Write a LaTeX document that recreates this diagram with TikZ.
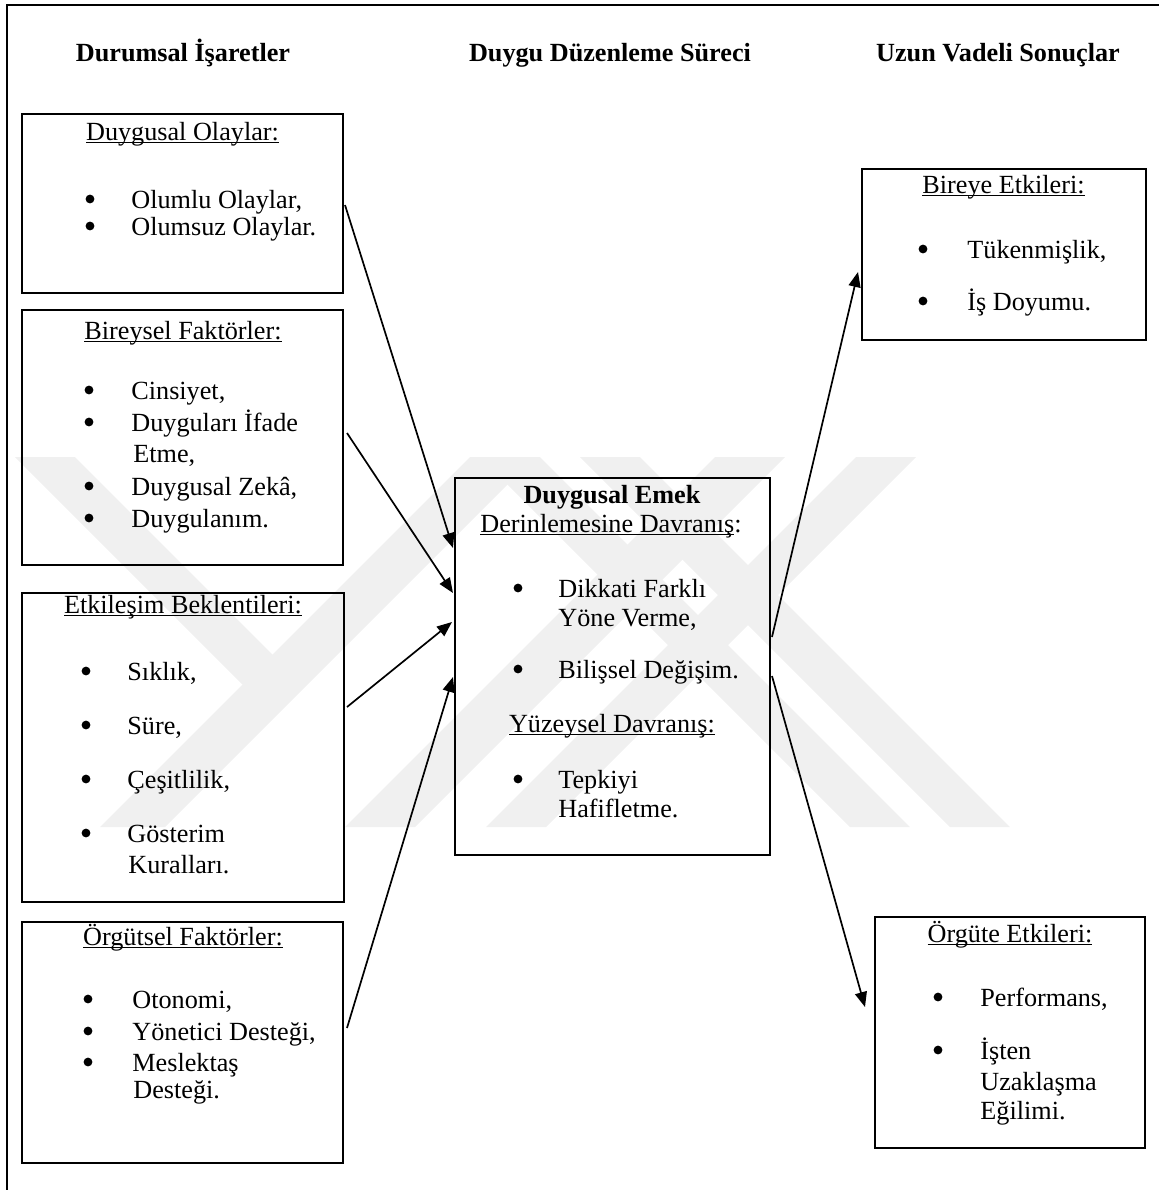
\documentclass[tikz,border=0pt]{standalone}
\usepackage{fontspec}
\setmainfont{Liberation Serif}
\usetikzlibrary{arrows.meta}
% underline that runs just below the baseline, through the descenders
\newcommand{\uln}[1]{\setbox0\hbox{#1}\rlap{\rule[-1.6pt]{\wd0}{0.75pt}}\box0}
\tikzset{
  box/.style={draw, line width=1.1pt, inner sep=0pt, outer sep=0pt, anchor=north west},
  txt/.style={inner sep=0pt, anchor=base west, font=\fontsize{13.1pt}{16pt}\selectfont},
  ttl/.style={txt, anchor=base},
  hdr/.style={ttl, font=\fontsize{13.1pt}{16pt}\selectfont\bfseries},
  bul/.style={circle, fill, inner sep=0pt, minimum size=4.4pt},
  arr/.style={-{Triangle[length=7.5pt,width=6pt]}, line width=0.85pt},
  wm/.style={fill=black!6, draw=none}
}
\begin{document}
\begin{tikzpicture}[x=0.5pt, y=-0.5pt]
\useasboundingbox (0,0) rectangle (1159,1190);
% faint emblem in the background
\fill[wm] (15,457) -- (75,457) -- (305,687) -- (242.5,684.5) -- cycle;
\fill[wm] (100,827) -- (165,827) -- (535,457) -- (470,457) -- cycle;
\fill[wm] (345,827) -- (415,827) -- (785,457) -- (715,457) -- cycle;
\fill[wm] (486,827) -- (546,827) -- (916,457) -- (856,457) -- cycle;
\fill[wm] (480,457) -- (540,457) -- (910,827) -- (850,827) -- cycle;
\fill[wm] (580,457) -- (640,457) -- (1010,827) -- (950,827) -- cycle;
% page frame
\draw[line width=1.1pt] (7,1190) -- (7,5) -- (1159,5);
% column headings
\node[hdr] (h1) at (183,61) {Durumsal İşaretler};
\node[hdr] (h2) at (610,61) {Duygu Düzenleme Süreci};
\node[hdr] (h3) at (998,61) {Uzun Vadeli Sonuçlar};
% boxes
\node[box, minimum width=160.5pt, minimum height=89.5pt] (olay) at (22,114) {};
\node[box, minimum width=160.5pt, minimum height=127.5pt] (birey) at (22,310) {};
\node[box, minimum width=161pt, minimum height=154.5pt] (etki) at (22,593) {};
\node[box, minimum width=160.5pt, minimum height=120.5pt] (orgut) at (22,922) {};
\node[box, minimum width=157.5pt, minimum height=188.5pt] (emek) at (455,478) {};
\node[box, minimum width=142pt, minimum height=85.5pt] (bireye) at (862,169) {};
\node[box, minimum width=135pt, minimum height=115.5pt] (orgute) at (875,917) {};
% Duygusal Olaylar
\node[ttl] (olayT) at (182.5,140) {\uln{Duygusal Olaylar:}};
\node[bul] (olayB1) at (90,199) {};
\node[txt] (olay1) at (131,208) {Olumlu Olaylar,};
\node[bul] (olayB2) at (90,226) {};
\node[txt] (olay2) at (131,235) {Olumsuz Olaylar.};
% Bireysel Faktorler
\node[ttl] (bireyT) at (183,339) {\uln{Bireysel Faktörler:}};
\node[bul] (bireyB1) at (89,390) {};
\node[txt] (birey1) at (131,399) {Cinsiyet,};
\node[bul] (bireyB2) at (89,422) {};
\node[txt] (birey2) at (131,431) {Duyguları İfade};
\node[txt] (birey2b) at (133,462) {Etme,};
\node[bul] (bireyB3) at (89,486) {};
\node[txt] (birey3) at (131,495) {Duygusal Zekâ,};
\node[bul] (bireyB4) at (89,518) {};
\node[txt] (birey4) at (131,527) {Duygulanım.};
% Etkilesim Beklentileri
\node[ttl] (etkiT) at (183,613) {\uln{Etkileşim Beklentileri:}};
\node[bul] (etkiB1) at (86,671) {};
\node[txt] (etki1) at (127,680) {Sıklık,};
\node[bul] (etkiB2) at (86,725) {};
\node[txt] (etki2) at (127,734) {Süre,};
\node[bul] (etkiB3) at (86,779) {};
\node[txt] (etki3) at (127,788) {Çeşitlilik,};
\node[bul] (etkiB4) at (86,833) {};
\node[txt] (etki4) at (127,842) {Gösterim};
\node[txt] (etki4b) at (128,873) {Kuralları.};
% Orgutsel Faktorler
\node[ttl] (orgutT) at (183,945) {\uln{Örgütsel Faktörler:}};
\node[bul] (orgutB1) at (88,999) {};
\node[txt] (orgut1) at (132,1008) {Otonomi,};
\node[bul] (orgutB2) at (88,1031) {};
\node[txt] (orgut2) at (132,1040) {Yönetici Desteği,};
\node[bul] (orgutB3) at (88,1062) {};
\node[txt] (orgut3) at (132,1071) {Meslektaş};
\node[txt] (orgut3b) at (133,1098) {Desteği.};
% Duygusal Emek
\node[hdr] (emekT) at (612,503) {Duygusal Emek};
\node[ttl] (emekS1) at (611,532) {\uln{Derinlemesine Davranış}:};
\node[bul] (emekB1) at (518,588) {};
\node[txt] (emek1) at (558,597) {Dikkati Farklı};
\node[txt] (emek1b) at (558,626) {Yöne Verme,};
\node[bul] (emekB2) at (518,669) {};
\node[txt] (emek2) at (558,678) {Bilişsel Değişim.};
\node[ttl] (emekS2) at (612,732) {\uln{Yüzeysel Davranış:}};
\node[bul] (emekB3) at (518,779) {};
\node[txt] (emek3) at (558,788) {Tepkiyi};
\node[txt] (emek3b) at (558,817) {Hafifletme.};
% Bireye Etkileri
\node[ttl] (bireyeT) at (1003.5,193) {\uln{Bireye Etkileri:}};
\node[bul] (bireyeB1) at (923,249) {};
\node[txt] (bireye1) at (967,258) {Tükenmişlik,};
\node[bul] (bireyeB2) at (923,301) {};
\node[txt] (bireye2) at (967,310) {İş Doyumu.};
% Orgute Etkileri
\node[ttl] (orguteT) at (1010,942) {\uln{Örgüte Etkileri:}};
\node[bul] (orguteB1) at (938,997) {};
\node[txt] (orgute1) at (980,1006) {Performans,};
\node[bul] (orguteB2) at (938,1050) {};
\node[txt] (orgute2) at (980,1059) {İşten};
\node[txt] (orgute2b) at (980,1090) {Uzaklaşma};
\node[txt] (orgute2c) at (980,1119) {Eğilimi.};
% connectors
\draw[arr] ([shift={(2,91)}]olay.north east) -- ([shift={(-2,70)}]emek.north west);
\draw[arr] ([shift={(4,123)}]birey.north east) -- ([shift={(-2,115)}]emek.north west);
\draw[arr] ([shift={(3,114)}]etki.north east) -- ([shift={(-3,144)}]emek.north west);
\draw[arr] ([shift={(4,106)}]orgut.north east) -- ([shift={(-2,199)}]emek.north west);
\draw[arr] ([shift={(2,159)}]emek.north east) -- ([shift={(-4,103)}]bireye.north west);
\draw[arr] ([shift={(2,198)}]emek.north east) -- ([shift={(-10,90)}]orgute.north west);
\end{tikzpicture}
\end{document}
